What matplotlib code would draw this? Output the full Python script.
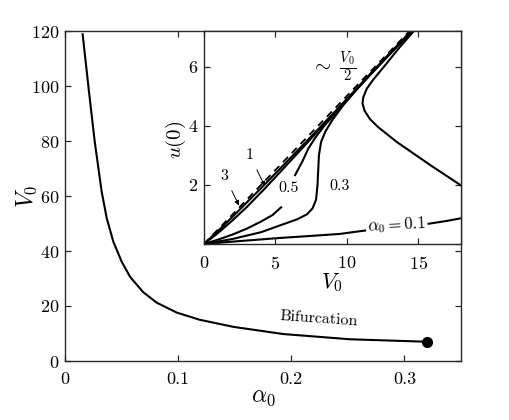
import matplotlib
matplotlib.use("Agg")
import matplotlib.pyplot as plt
import numpy as np

plt.rcParams['font.family'] = ['cmr10', 'DejaVu Serif']
plt.rcParams['mathtext.fontset'] = 'cm'
plt.rcParams['axes.formatter.use_mathtext'] = True
plt.rcParams['axes.unicode_minus'] = False

# ---- main panel: bifurcation curve V0(alpha0) ----
alpha_bif = [0.0156, 0.0212, 0.0263, 0.0324, 0.0369, 0.0427, 0.0501, 0.0575,
             0.0692, 0.0811, 0.0988, 0.119, 0.149, 0.193, 0.252, 0.32]
V0_bif = [118.8, 97.9, 79.7, 61.6, 51.9, 43.4, 36.1, 30.6,
          25.0, 21.2, 17.6, 15.0, 12.4, 9.8, 7.9, 7.0]
main_xticks = [0, 0.1, 0.2, 0.3]
main_xticklabels = ['0', '0.1', '0.2', '0.3']
main_yticks = [0, 20, 40, 60, 80, 100, 120]

# ---- inset: u(0) vs V0 for several alpha0 ----
asym_V = [0, 18]
asym_u = [0, 9]

a3_V = [0, 1, 2, 4, 6, 8, 10, 12, 14.6]
a3_u = [0, 0.45, 0.92, 1.89, 2.88, 3.88, 4.9, 5.93, 7.25]

a1_V = [0, 1, 2, 3, 4.27, 5.5, 7, 8.5, 10, 12, 14.6]
a1_u = [0, 0.38, 0.8, 1.25, 1.88, 2.52, 3.3, 4.1, 4.88, 5.9, 7.22]

a05_lo_V = [0, 1, 2, 3, 4, 4.8, 5.4]
a05_lo_u = [0, 0.15, 0.32, 0.52, 0.76, 0.98, 1.24]
a05_hi_V = [6.38, 6.9, 7.3, 7.8, 8.4, 9.2, 10, 11.5, 13, 14.6]
a05_hi_u = [2.33, 2.8, 3.22, 3.6, 3.98, 4.42, 4.85, 5.65, 6.42, 7.22]

a03_V = [0, 2, 4, 5.56, 6.5, 7.2, 7.6, 7.85, 7.95, 8.0, 8.05, 8.2, 8.5,
         9.0, 9.8, 11, 12.5, 14.6]
a03_u = [0, 0.17, 0.4, 0.67, 0.83, 1.0, 1.2, 1.5, 2.0, 2.5, 3.0, 3.45, 3.8,
         4.2, 4.72, 5.4, 6.18, 7.22]

a01_lo_V = [0, 2, 5.2, 8, 9.5, 11.2, 13.5, 15.8, 17, 18]
a01_lo_u = [0, 0.08, 0.2, 0.29, 0.34, 0.45, 0.56, 0.69, 0.78, 0.87]
a01_hi_V = [18, 15.84, 13.5, 12.2, 11.63, 11.25, 11.1, 11.15, 11.4, 11.86,
            12.8, 13.7, 14.7]
a01_hi_u = [1.98, 2.67, 3.45, 3.95, 4.22, 4.5, 4.75, 4.95, 5.25, 5.56,
            6.11, 6.65, 7.2]

inset_xticks = [0, 5, 10, 15]
inset_yticks = [0, 2, 4, 6]
inset_yticklabels = ['', '2', '4', '6']

W, H = 509, 420
fig = plt.figure(figsize=(W / 100, H / 100), dpi=100)

spine_col = '#2a2a2a'

def frac(x0, y0, x1, y1):
    return [x0 / W, 1 - y1 / H, (x1 - x0) / W, (y1 - y0) / H]

ax = fig.add_axes(frac(65, 31, 461, 361))
ax.plot(alpha_bif, V0_bif, color='k', lw=1.5, solid_joinstyle='round')
ax.plot([alpha_bif[-1]], [V0_bif[-1]], 'o', color='k', ms=7)
ax.set_xlim(0, 0.35)
ax.set_ylim(0, 120)
ax.set_xticks(main_xticks)
ax.set_xticklabels(main_xticklabels)
ax.set_yticks(main_yticks)
ax.tick_params(direction='in', top=True, right=True, length=4, width=0.9,
               labelsize=13, color=spine_col)
ax.tick_params(axis='x', pad=8)
ax.tick_params(axis='y', pad=4)
for s in ax.spines.values():
    s.set_color(spine_col)
    s.set_linewidth(1.0)
ax.set_xlabel(r'$\alpha_0$', fontsize=17)
ax.set_ylabel(r'$V_0$', fontsize=17)
ax.xaxis.set_label_coords(0.5, -0.11)
ax.xaxis.label.set_verticalalignment('center')
ax.yaxis.set_label_coords(-0.097, 0.5)
ax.yaxis.label.set_verticalalignment('center')
ax.text(0.224, 15.3, 'Bifurcation', fontsize=11.5, ha='center', va='center',
        rotation=-4)

# inset
ins = fig.add_axes(frac(204, 31, 461, 244))
ins.set_facecolor('white')
lw = 1.5
ins.plot(asym_V, asym_u, color='k', lw=1.3, ls=(0, (4, 3)))
ins.plot(a3_V, a3_u, color='k', lw=lw, solid_joinstyle='round')
ins.plot(a1_V, a1_u, color='k', lw=lw, solid_joinstyle='round')
ins.plot(a05_lo_V, a05_lo_u, color='k', lw=lw, solid_joinstyle='round')
ins.plot(a05_hi_V, a05_hi_u, color='k', lw=lw, solid_joinstyle='round')
ins.plot(a03_V, a03_u, color='k', lw=lw, solid_joinstyle='round')
ins.plot(a01_lo_V, a01_lo_u, color='k', lw=lw, solid_joinstyle='round')
ins.plot(a01_hi_V, a01_hi_u, color='k', lw=lw, solid_joinstyle='round')
ins.set_xlim(0, 18)
ins.set_ylim(0, 7.2)
ins.set_xticks(inset_xticks)
ins.set_yticks(inset_yticks)
ins.set_yticklabels(inset_yticklabels)
ins.tick_params(direction='in', top=True, right=True, length=4, width=0.9,
                labelsize=13, color=spine_col)
ins.tick_params(axis='x', pad=8)
ins.tick_params(axis='y', pad=5)
for s in ins.spines.values():
    s.set_color(spine_col)
    s.set_linewidth(1.0)
ins.set_xlabel(r'$V_0$', fontsize=16)
ins.set_ylabel(r'$u(0)$', fontsize=15)
ins.xaxis.set_label_coords(0.5, -0.183)
ins.xaxis.label.set_verticalalignment('center')
ins.yaxis.set_label_coords(-0.11, 0.49)
ins.yaxis.label.set_verticalalignment('center')

ins.text(9.1, 6.0, r'$\sim\;\frac{V_0}{2}$', fontsize=15, ha='center', va='center')
ins.annotate('3', xy=(2.45, 1.3), xytext=(1.45, 2.3), fontsize=11.5,
             ha='center', va='center',
             arrowprops=dict(arrowstyle='-|>', lw=0.7, color='k',
                             mutation_scale=7, shrinkA=4, shrinkB=0))
ins.annotate('1', xy=(4.27, 1.95), xytext=(3.2, 3.0), fontsize=11.5,
             ha='center', va='center',
             arrowprops=dict(arrowstyle='-|>', lw=0.7, color='k',
                             mutation_scale=7, shrinkA=4, shrinkB=0))
ins.text(5.95, 1.88, '0.5', fontsize=11.5, ha='center', va='center')
ins.text(9.5, 1.95, '0.3', fontsize=11.5, ha='center', va='center')
ins.text(13.5, 0.63, r'$\alpha_0 = 0.1$', fontsize=12, ha='center', va='center',
         rotation=3,
         bbox=dict(boxstyle='square,pad=0.1', fc='white', ec='none'))

fig.savefig('out.png', dpi=100)
